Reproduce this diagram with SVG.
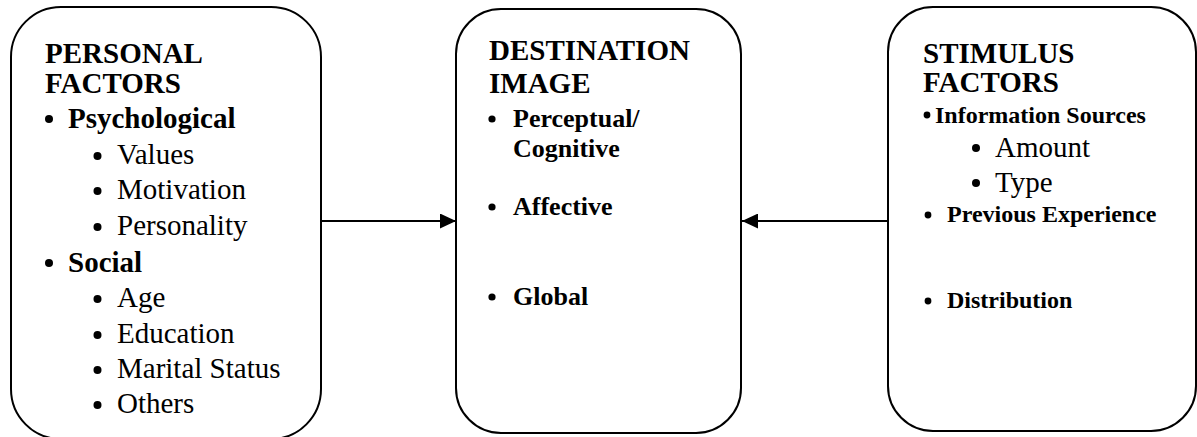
<svg xmlns="http://www.w3.org/2000/svg" width="1197" height="437" viewBox="0 0 1197 437">
<style>
.box{fill:#fff;stroke:#000;stroke-width:2}
.t{font-family:"Liberation Serif","Times New Roman",serif;fill:#000}
.h{font-size:29px;font-weight:bold}
.r{font-size:29px}
.b26{font-size:26px;font-weight:bold}
.b24{font-size:24px;font-weight:bold}
.dot{fill:#000}
.conn{stroke:#000;stroke-width:2.2;fill:none}
</style>
<defs>
<marker id="ah" markerWidth="16" markerHeight="15" refX="16" refY="7.5" orient="auto" markerUnits="userSpaceOnUse">
<path d="M0,0 L16,7.5 L0,15 Z" fill="#000"/>
</marker>
</defs>
<rect width="1197" height="437" fill="#fff"/>
<g id="personal">
<rect class="box" x="11" y="7" width="310" height="432" rx="50" ry="50"/>
<text class="t h" x="45" y="63">PERSONAL</text>
<text class="t h" x="45" y="93">FACTORS</text>
<circle class="dot" cx="49" cy="119" r="4"/>
<text class="t h" x="68" y="128">Psychological</text>
<circle class="dot" cx="97.5" cy="156" r="4"/>
<text class="t r" x="117" y="164">Values</text>
<circle class="dot" cx="97.5" cy="191" r="4"/>
<text class="t r" x="117" y="199">Motivation</text>
<circle class="dot" cx="97.5" cy="227" r="4"/>
<text class="t r" x="117" y="235">Personality</text>
<circle class="dot" cx="49" cy="263" r="4"/>
<text class="t h" x="68" y="272">Social</text>
<circle class="dot" cx="97.5" cy="299" r="4"/>
<text class="t r" x="117" y="307">Age</text>
<circle class="dot" cx="97.5" cy="335" r="4"/>
<text class="t r" x="117" y="343">Education</text>
<circle class="dot" cx="97.5" cy="370" r="4"/>
<text class="t r" x="117" y="378">Marital Status</text>
<circle class="dot" cx="97.5" cy="405" r="4"/>
<text class="t r" x="117" y="413">Others</text>
</g>
<g id="destination">
<rect class="box" x="456" y="9" width="285" height="424" rx="45" ry="45"/>
<text class="t h" x="489" y="60">DESTINATION</text>
<text class="t h" x="489" y="93">IMAGE</text>
<circle class="dot" cx="492" cy="119" r="3.6"/>
<text class="t b26" x="513" y="127">Perceptual/</text>
<text class="t b26" x="513" y="157">Cognitive</text>
<circle class="dot" cx="492" cy="207" r="3.6"/>
<text class="t b26" x="513" y="215">Affective</text>
<circle class="dot" cx="492" cy="297" r="3.6"/>
<text class="t b26" x="513" y="305">Global</text>
</g>
<g id="stimulus">
<rect class="box" x="888" y="7" width="308" height="424" rx="45" ry="45"/>
<text class="t h" x="923" y="63">STIMULUS</text>
<text class="t h" x="923" y="92">FACTORS</text>
<circle class="dot" cx="927" cy="115" r="3.4"/>
<text class="t b24" x="935" y="123">Information Sources</text>
<circle class="dot" cx="976" cy="148" r="4"/>
<text class="t r" x="995" y="157">Amount</text>
<circle class="dot" cx="976" cy="183" r="4"/>
<text class="t r" x="995" y="192">Type</text>
<circle class="dot" cx="928" cy="215" r="3.4"/>
<text class="t b24" x="947" y="222">Previous Experience</text>
<circle class="dot" cx="928" cy="301" r="3.4"/>
<text class="t b24" x="947" y="308">Distribution</text>
</g>
<g id="connectors">
<line class="conn" x1="321" y1="221" x2="456" y2="221" marker-end="url(#ah)"/>
<line class="conn" x1="887" y1="221" x2="742" y2="221" marker-end="url(#ah)"/>
</g>
</svg>
